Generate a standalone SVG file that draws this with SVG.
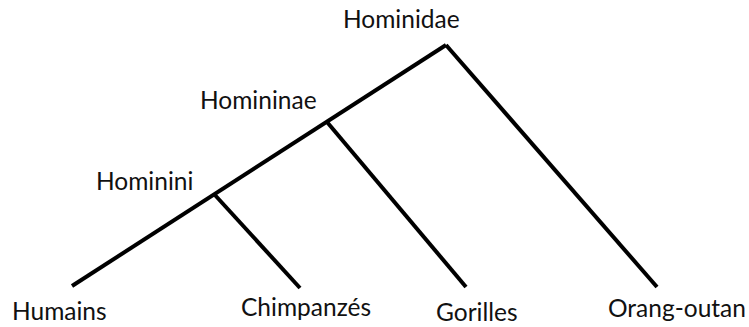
<svg xmlns="http://www.w3.org/2000/svg" width="749" height="327" viewBox="0 0 749 327">
  <style>
    .lbl { font-family: Lato, "Open Sans", "Liberation Sans", sans-serif; font-size: 24.5px; fill: #111; }
    .edge { stroke: #000; stroke-width: 4; fill: none; stroke-linecap: butt; }
  </style>
  <rect width="749" height="327" fill="#fff"/>
  <g id="connectors">
    <line class="edge" x1="72" y1="286" x2="446" y2="45"/>
    <line class="edge" x1="446" y1="45" x2="657" y2="287"/>
    <line class="edge" x1="327" y1="122" x2="466" y2="287"/>
    <line class="edge" x1="214" y1="194" x2="300" y2="288"/>
  </g>
  <g id="hominidae"><text class="lbl" x="343" y="28">Hominidae</text></g>
  <g id="homininae"><text class="lbl" x="200" y="109">Homininae</text></g>
  <g id="hominini"><text class="lbl" x="96" y="190">Hominini</text></g>
  <g id="humains"><text class="lbl" x="12" y="320">Humains</text></g>
  <g id="chimpanzes"><text class="lbl" x="241" y="316">Chimpanzés</text></g>
  <g id="gorilles"><text class="lbl" x="436" y="321">Gorilles</text></g>
  <g id="orang-outan"><text class="lbl" x="608" y="317">Orang-outan</text></g>
</svg>
